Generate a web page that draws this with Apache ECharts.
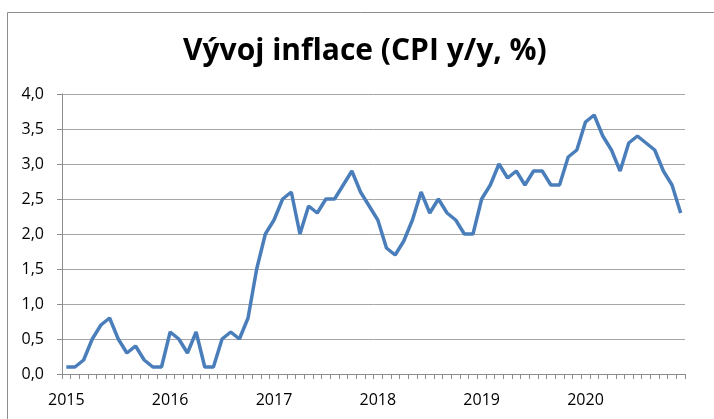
<!DOCTYPE html>
<html>
<head>
<meta charset="utf-8">
<script src="https://cdn.jsdelivr.net/npm/echarts@6/dist/echarts.min.js"></script>
<style>
  html, body { margin: 0; padding: 0; background: #fff; }
  #chart { width: 714px; height: 419px; }
</style>
</head>
<body>
<div id="chart"></div>
<script>
const years = [2015, 2016, 2017, 2018, 2019, 2020]
const months = years.flatMap((y) => Array.from({ length: 12 }, (_, m) => y + '-' + (m + 1)))

// meziroční inflace, %
const cpi2015 = [0.1, 0.1, 0.2, 0.5, 0.7, 0.8, 0.5, 0.3, 0.4, 0.2, 0.1, 0.1]
const cpi2016 = [0.6, 0.5, 0.3, 0.6, 0.1, 0.1, 0.5, 0.6, 0.5, 0.8, 1.5, 2.0]
const cpi2017 = [2.2, 2.5, 2.6, 2.0, 2.4, 2.3, 2.5, 2.5, 2.7, 2.9, 2.6, 2.4]
const cpi2018 = [2.2, 1.8, 1.7, 1.9, 2.2, 2.6, 2.3, 2.5, 2.3, 2.2, 2.0, 2.0]
const cpi2019 = [2.5, 2.7, 3.0, 2.8, 2.9, 2.7, 2.9, 2.9, 2.7, 2.7, 3.1, 3.2]
const cpi2020 = [3.6, 3.7, 3.4, 3.2, 2.9, 3.3, 3.4, 3.3, 3.2, 2.9, 2.7, 2.3]
const cpi = [...cpi2015, ...cpi2016, ...cpi2017, ...cpi2018, ...cpi2019, ...cpi2020]

const chart = echarts.init(document.getElementById('chart'))

chart.setOption({
  animation: false,
  textStyle: { fontFamily: 'Open Sans' },
  title: {
    text: 'Vývoj inflace (CPI y/y, %)',
    left: 178,
    top: 31,
    textStyle: { fontSize: 30, fontWeight: 'bold', color: '#000', fontFamily: 'Open Sans' },
  },
  graphic: [{
    type: 'polyline',
    shape: { points: [[7.5, 419], [7.5, 12.5], [714, 12.5]] },
    style: { stroke: '#8c8c8c', lineWidth: 1, fill: null },
  }],
  grid: { left: 62, right: 29, top: 94, bottom: 45 },
  xAxis: {
    type: 'category',
    data: months,
    boundaryGap: true,
    axisLine: { lineStyle: { color: '#8c8c8c', width: 1 } },
    axisTick: { show: true, interval: 0, length: 5, lineStyle: { color: '#8c8c8c' } },
    axisLabel: {
      interval: 11,
      margin: 18,
      color: '#000',
      fontSize: 16,
      formatter: (v) => v.split('-')[0],
    },
    splitLine: { show: false },
  },
  yAxis: {
    type: 'value',
    min: 0,
    max: 4,
    interval: 0.5,
    axisLine: { show: true, lineStyle: { color: '#8c8c8c', width: 1 } },
    axisTick: { show: true, length: 5, lineStyle: { color: '#8c8c8c' } },
    axisLabel: {
      margin: 18,
      color: '#000',
      fontSize: 16,
      formatter: (v) => v.toFixed(1).replace('.', ','),
    },
    splitLine: { lineStyle: { color: '#a6a6a6', width: 1 } },
  },
  series: [{
    type: 'line',
    data: cpi,
    symbol: 'none',
    lineStyle: { color: '#4a7ebb', width: 3.5 },
  }],
})
</script>
</body>
</html>
